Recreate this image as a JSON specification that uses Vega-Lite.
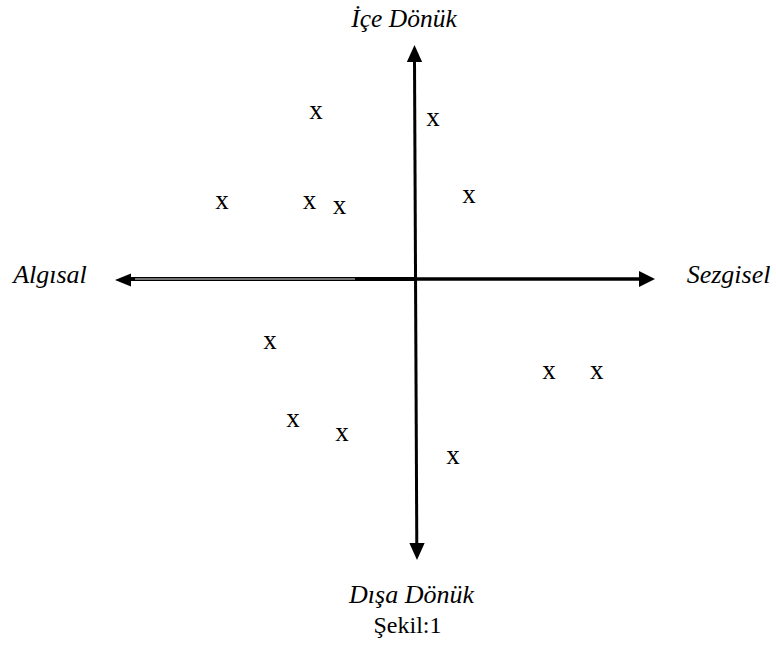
{
  "$schema": "https://vega.github.io/schema/vega-lite/v6.json",
  "width": 776,
  "height": 652,
  "padding": 0,
  "autosize": {"type": "fit", "contains": "padding"},
  "background": "white",
  "config": {"view": {"stroke": null}},
  "encoding": {
    "x": {"field": "x", "type": "quantitative", "axis": null, "scale": {"domain": [-41.5, 36.1], "nice": false, "zero": false}},
    "y": {"field": "y", "type": "quantitative", "axis": null, "scale": {"domain": [-37.3, 27.9], "nice": false, "zero": false}}
  },
  "layer": [
    {
      "data": {"values": [{"x": -29, "y": 0, "x2": 0, "y2": 0}]},
      "mark": {"type": "rule", "color": "black", "strokeWidth": 4},
      "encoding": {"x2": {"field": "x2"}, "y2": {"field": "y2"}}
    },
    {
      "data": {"values": [{"x": 0, "y": 0, "x2": 22.6, "y2": 0}]},
      "mark": {"type": "rule", "color": "black", "strokeWidth": 3.5},
      "encoding": {"x2": {"field": "x2"}, "y2": {"field": "y2"}}
    },
    {
      "data": {"values": [{"x": -28, "y": 0, "x2": -6, "y2": 0}]},
      "mark": {"type": "rule", "color": "white", "strokeWidth": 1, "opacity": 0.9},
      "encoding": {"x2": {"field": "x2"}, "y2": {"field": "y2"}}
    },
    {
      "data": {"values": [{"x": -0.05, "y": 21.9, "x2": 0.18, "y2": -26.6}]},
      "mark": {"type": "rule", "color": "black", "strokeWidth": 3},
      "encoding": {"x2": {"field": "x2"}, "y2": {"field": "y2"}}
    },
    {
      "data": {"values": [{"x": 23.2, "y": 0}]},
      "mark": {"type": "point", "shape": "M-1,-1L1,0L-1,1Z", "size": 256, "filled": true, "color": "black", "opacity": 1}
    },
    {
      "data": {"values": [{"x": -29.2, "y": -0.1}]},
      "mark": {"type": "point", "shape": "M1,-0.8L-1,0L1,0.8Z", "size": 256, "filled": true, "color": "black", "opacity": 1}
    },
    {
      "data": {"values": [{"x": -0.05, "y": 22.55}]},
      "mark": {"type": "point", "shape": "M0,-1L-0.9,1L0.9,1Z", "size": 289, "filled": true, "color": "black", "opacity": 1}
    },
    {
      "data": {"values": [{"x": 0.2, "y": -27.25}]},
      "mark": {"type": "point", "shape": "M0,1L-0.9,-1L0.9,-1Z", "size": 289, "filled": true, "color": "black", "opacity": 1}
    },
    {
      "data": {"values": [
        {"x": -9.9, "y": 16.6},
        {"x": 1.8, "y": 15.9},
        {"x": -19.3, "y": 7.65},
        {"x": -10.55, "y": 7.65},
        {"x": -7.55, "y": 7.1},
        {"x": 5.4, "y": 8.2},
        {"x": -14.5, "y": -6.4},
        {"x": 13.4, "y": -9.35},
        {"x": 18.17, "y": -9.35},
        {"x": -12.2, "y": -14.2},
        {"x": -7.3, "y": -15.6},
        {"x": 3.8, "y": -17.9}
      ]},
      "mark": {"type": "text", "text": "x", "font": "Liberation Serif", "fontSize": 27, "align": "center", "baseline": "alphabetic", "dy": 6, "color": "black"}
    },
    {
      "data": {"values": [
        {"label": "Dışa Dönük", "x": -0.35, "y": -32.4},
        {"label": "Algısal", "x": -36.5, "y": -0.4},
        {"label": "Sezgisel", "x": 31.35, "y": -0.4}
      ]},
      "mark": {"type": "text", "font": "Liberation Serif", "fontStyle": "italic", "fontSize": 26, "align": "center", "baseline": "alphabetic", "color": "black"},
      "encoding": {"text": {"field": "label"}}
    },
    {
      "data": {"values": [{"label": "İçe Dönük", "x": -1.1, "y": 25.2}]},
      "mark": {"type": "text", "font": "Liberation Serif", "fontStyle": "italic", "fontSize": 25.5, "align": "center", "baseline": "alphabetic", "color": "black"},
      "encoding": {"text": {"field": "label"}}
    },
    {
      "data": {"values": [{"label": "Şekil:1", "x": -0.75, "y": -35.4}]},
      "mark": {"type": "text", "font": "Liberation Serif", "fontSize": 24, "align": "center", "baseline": "alphabetic", "color": "black"},
      "encoding": {"text": {"field": "label"}}
    }
  ]
}
